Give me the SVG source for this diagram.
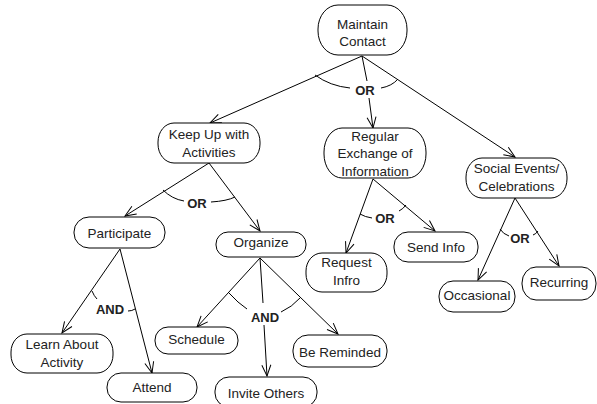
<svg xmlns="http://www.w3.org/2000/svg" width="597" height="404" viewBox="0 0 597 404">
  <style>
    .node rect { fill: #fff; stroke: #000; stroke-width: 1; }
    .node text { font-family: "Liberation Sans", Arial, sans-serif; font-size: 13.5px; fill: #222; text-anchor: middle; }
    .edge { stroke: #000; stroke-width: 1; fill: none; }
    .link { stroke: #000; stroke-width: 1; fill: none; marker-end: url(#arrow); }
    .op { font-family: "Liberation Sans", Arial, sans-serif; font-size: 13px; font-weight: bold; fill: #222; text-anchor: middle; }
  </style>
  <defs>
    <marker id="arrow" viewBox="-12 -6 14 12" markerWidth="14" markerHeight="12" refX="0" refY="0" orient="auto" markerUnits="userSpaceOnUse">
      <path d="M-11,-4.5 L0,0 L-11,4.5" fill="none" stroke="#000" stroke-width="1"/>
    </marker>
  </defs>
  <rect width="597" height="404" fill="#fff"/>

  <g id="connectors">
    <!-- Maintain Contact -->
    <line class="link" x1="362" y1="56" x2="210" y2="123"/>
    <line class="edge" x1="362" y1="56" x2="367" y2="81"/>
    <line class="link" x1="369" y1="98" x2="373" y2="128"/>
    <line class="link" x1="362" y1="56" x2="515" y2="157"/>
    <path class="edge" d="M315,75 Q330,86 350,88"/>
    <path class="edge" d="M381,88 Q392,86 398,79"/>
    <text class="op" x="365" y="95">OR</text>

    <!-- Keep Up with Activities -->
    <line class="link" x1="209" y1="163" x2="125" y2="216"/>
    <line class="link" x1="209" y1="163" x2="260" y2="231"/>
    <path class="edge" d="M163,190 Q172,199 184,201"/>
    <path class="edge" d="M211,202 Q227,201 235,197"/>
    <text class="op" x="197" y="208">OR</text>

    <!-- Regular Exchange of Information -->
    <line class="link" x1="373" y1="179" x2="346" y2="253"/>
    <line class="link" x1="373" y1="179" x2="435" y2="231"/>
    <path class="edge" d="M360,214 Q365,217 372,218"/>
    <path class="edge" d="M399,211 Q403,209 406,205"/>
    <text class="op" x="385" y="223">OR</text>

    <!-- Social Events/Celebrations -->
    <line class="link" x1="515" y1="198" x2="478" y2="280"/>
    <line class="link" x1="515" y1="198" x2="559" y2="266"/>
    <path class="edge" d="M500,229 Q503,234 509,236"/>
    <path class="edge" d="M533,235 Q536,234 538,231"/>
    <text class="op" x="520" y="243">OR</text>

    <!-- Participate -->
    <line class="link" x1="120" y1="249" x2="62" y2="333"/>
    <line class="link" x1="120" y1="249" x2="152" y2="373"/>
    <path class="edge" d="M92,291 Q94,296 97,299"/>
    <path class="edge" d="M128,311 Q132,311 135,309"/>
    <text class="op" x="110" y="314">AND</text>

    <!-- Organize -->
    <line class="link" x1="260" y1="258" x2="197" y2="327"/>
    <line class="edge" x1="260" y1="258" x2="263" y2="303"/>
    <line class="link" x1="264" y1="325" x2="267" y2="376"/>
    <line class="link" x1="260" y1="258" x2="338" y2="334"/>
    <path class="edge" d="M229,293 Q238,303 247,309"/>
    <path class="edge" d="M281,312 Q292,307 300,298"/>
    <text class="op" x="265" y="322">AND</text>
  </g>

  <g id="maintain-contact" class="node">
    <rect x="318" y="5" width="89" height="50" rx="20" ry="24"/>
    <text x="362.5" y="29">Maintain</text>
    <text x="362.5" y="46">Contact</text>
  </g>
  <g id="keep-up" class="node">
    <rect x="158" y="123" width="102" height="40" rx="16" ry="19"/>
    <text x="209" y="139">Keep Up with</text>
    <text x="209" y="157">Activities</text>
  </g>
  <g id="regular-exchange" class="node">
    <rect x="324" y="128" width="102" height="50" rx="18" ry="24"/>
    <text x="375" y="141">Regular</text>
    <text x="375" y="158">Exchange of</text>
    <text x="375" y="176">Information</text>
  </g>
  <g id="social-events" class="node">
    <rect x="466" y="158" width="101" height="40" rx="16" ry="19"/>
    <text x="516.5" y="173">Social Events/</text>
    <text x="516.5" y="191">Celebrations</text>
  </g>
  <g id="send-info" class="node">
    <rect x="394" y="232" width="84" height="30" rx="14" ry="14"/>
    <text x="436" y="252">Send Info</text>
  </g>
  <g id="request-info" class="node">
    <rect x="306" y="253" width="81" height="39" rx="16" ry="18"/>
    <text x="346.5" y="267">Request</text>
    <text x="346.5" y="285">Infro</text>
  </g>
  <g id="occasional" class="node">
    <rect x="439" y="281" width="76" height="31" rx="14" ry="15"/>
    <text x="477" y="300">Occasional</text>
  </g>
  <g id="recurring" class="node">
    <rect x="522" y="267" width="74" height="33" rx="14" ry="16"/>
    <text x="559" y="287">Recurring</text>
  </g>
  <g id="participate" class="node">
    <rect x="74" y="217" width="91" height="31" rx="15" ry="15"/>
    <text x="119.5" y="238">Participate</text>
  </g>
  <g id="learn-about" class="node">
    <rect x="11" y="334" width="102" height="39" rx="16" ry="18"/>
    <text x="62" y="349">Learn About</text>
    <text x="62" y="367">Activity</text>
  </g>
  <g id="attend" class="node">
    <rect x="107" y="373" width="90" height="29" rx="14" ry="14"/>
    <text x="152" y="392">Attend</text>
  </g>
  <g id="organize" class="node">
    <rect x="216" y="232" width="90" height="25" rx="12" ry="12"/>
    <text x="261" y="247">Organize</text>
  </g>
  <g id="schedule" class="node">
    <rect x="155" y="327" width="83" height="27" rx="13" ry="13"/>
    <text x="196.5" y="344">Schedule</text>
  </g>
  <g id="be-reminded" class="node">
    <rect x="293" y="335" width="94" height="32" rx="15" ry="15"/>
    <text x="340" y="357">Be Reminded</text>
  </g>
  <g id="invite-others" class="node">
    <rect x="215" y="377" width="102" height="30" rx="14" ry="14"/>
    <text x="266" y="398">Invite Others</text>
  </g>
</svg>
